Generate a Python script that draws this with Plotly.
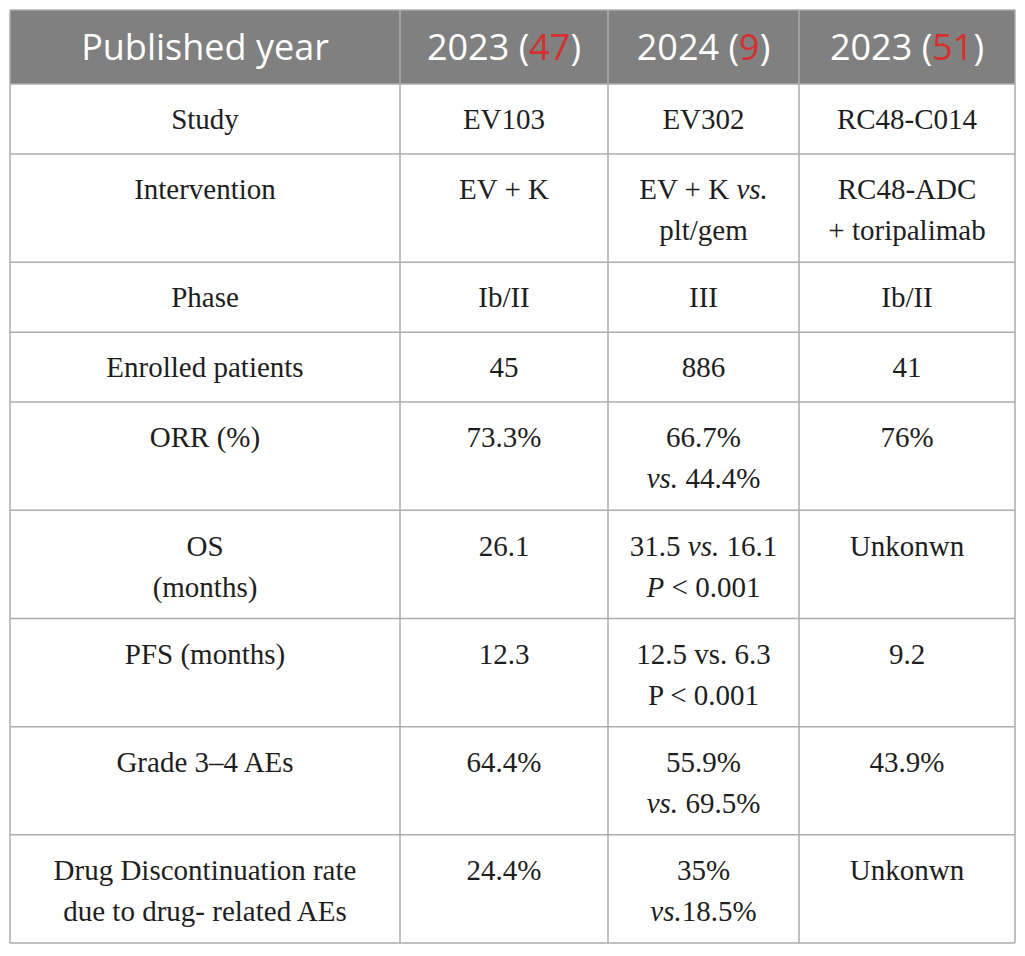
import plotly.graph_objects as go

RED = "#d62f2f"
HEADER_FILL = "#808080"
GRID = "#adadad"
INK = "#1e1e1e"

# header: published year (reference number)
years = ["2023", "2024", "2023"]
refs = ["47", "9", "51"]

row_labels = [
    "Study",
    "Intervention",
    "Phase",
    "Enrolled patients",
    "ORR (%)",
    "OS<br>(months)",
    "PFS (months)",
    "Grade 3\u20134 AEs",
    "Drug Discontinuation rate<br>due to drug- related AEs",
]
ev103 = ["EV103", "EV + K", "Ib/II", "45", "73.3%", "26.1", "12.3", "64.4%", "24.4%"]
ev302 = [
    "EV302",
    "EV + K <i>vs.</i><br>plt/gem",
    "III",
    "886",
    "66.7%<br><i>vs.</i> 44.4%",
    "31.5 <i>vs.</i> 16.1<br><i>P</i> &lt; 0.001",
    "12.5 vs. 6.3<br>P &lt; 0.001",
    "55.9%<br><i>vs.</i> 69.5%",
    "35%<br><i>vs.</i>18.5%",
]
rc48 = ["RC48-C014", "RC48-ADC<br>+ toripalimab", "Ib/II", "41", "76%", "Unkonwn", "9.2", "43.9%", "Unkonwn"]

header = ["Published year"] + [f"{y} (<span style='color:{RED}'>{r}</span>)" for y, r in zip(years, refs)]
columns = [row_labels, ev103, ev302, rc48]

# table geometry in pixels
COL_W = [390, 208, 191, 216]
HEAD_H = 74
ROW_H1, ROW_EXTRA = 70, 38.2
LINE_PITCH, FIRST_LINE = 41, 38

col_edges = [0]
for w in COL_W:
    col_edges.append(col_edges[-1] + w)
col_mid = [(a + b) / 2 for a, b in zip(col_edges[:-1], col_edges[1:])]

n_lines = [max(len(col[i].split("<br>")) for col in columns) for i in range(len(row_labels))]
row_edges = [HEAD_H]
for n in n_lines:
    row_edges.append(row_edges[-1] + ROW_H1 + ROW_EXTRA * (n - 1))
W, H = col_edges[-1], row_edges[-1]

# one text mark per line of each cell
tx, ty, tt = [], [], []
for c, col in enumerate(columns):
    for r, cell in enumerate(col):
        for k, line in enumerate(cell.split("<br>")):
            tx.append(col_mid[c])
            ty.append(row_edges[r] + FIRST_LINE + k * LINE_PITCH)
            tt.append(line)

fig = go.Figure()
fig.add_trace(go.Scatter(
    x=col_mid, y=[HEAD_H / 2 + 4] * len(header), text=header, mode="text",
    textposition="middle center", cliponaxis=False, hoverinfo="skip",
    textfont=dict(family="Open Sans, sans-serif", size=36, color="white"),
))
fig.add_trace(go.Scatter(
    x=tx, y=ty, text=tt, mode="text",
    textposition="middle center", cliponaxis=False, hoverinfo="skip",
    textfont=dict(family="Liberation Serif, Times New Roman, serif", size=29, color=INK),
))

shapes = [dict(type="rect", x0=0, x1=W, y0=0, y1=HEAD_H, fillcolor=HEADER_FILL,
               line=dict(width=0), layer="below")]
for y in [0] + row_edges:
    shapes.append(dict(type="line", x0=0, x1=W, y0=y, y1=y, line=dict(color=GRID, width=1.5), layer="below"))
for x in col_edges:
    shapes.append(dict(type="line", x0=x, x1=x, y0=0, y1=H, line=dict(color=GRID, width=1.5), layer="below"))

fig.update_layout(
    width=1009, height=940,
    margin=dict(l=1, r=1, t=1, b=4),
    paper_bgcolor="white", plot_bgcolor="white",
    showlegend=False, hovermode=False,
    shapes=shapes,
    xaxis=dict(range=[-1, W + 1], visible=False, fixedrange=True),
    yaxis=dict(range=[H + 1, -1], visible=False, fixedrange=True),
)

fig.write_html("out.html")
